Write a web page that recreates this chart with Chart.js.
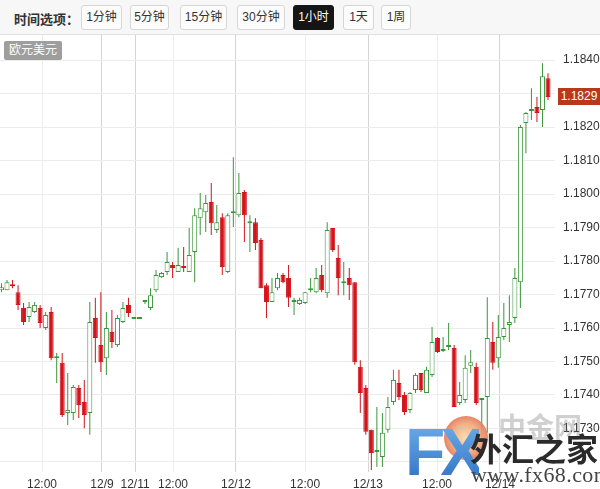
<!DOCTYPE html>
<html><head><meta charset="utf-8">
<script src="https://cdn.jsdelivr.net/npm/chart.js@4.4.0/dist/chart.umd.min.js"></script>
<style>
html,body{margin:0;padding:0;background:#fff;}
#wrap{position:relative;width:600px;height:489px;overflow:hidden;font-family:Arial,"Liberation Sans","Noto Sans CJK SC",sans-serif;}
#c{position:absolute;left:0;top:0;}
#bar{position:absolute;left:0;top:0;width:600px;height:34px;background:#f7f7f7;border-bottom:1px solid #e0e0e0;}
.lbl{position:absolute;left:14px;top:9px;font-size:13px;font-weight:bold;color:#333;}
.btn{position:absolute;top:5px;height:25px;line-height:23px;border:1px solid #d6d6d6;border-radius:3px;background:#fcfcfc;font-size:12px;color:#333;text-align:center;box-sizing:border-box;}
.btn.on{background:#151515;color:#fff;border-color:#151515;}
#pair{position:absolute;left:4px;top:41px;width:58px;height:19px;line-height:19px;background:#9e9e9e;color:#fff;font-size:12px;text-align:center;border-radius:2px;}
#price{position:absolute;left:558px;width:42px;height:17px;line-height:17px;background:#b9381b;color:#fff;font-size:12px;text-align:center;}
.wm{position:absolute;white-space:nowrap;}
</style></head>
<body>
<div id="wrap">
<canvas id="c" width="600" height="489"></canvas>
<div id="bar">
  <div class="lbl">时间选项：</div>
  <div class="btn" style="left:81px;width:41px;">1分钟</div>
  <div class="btn" style="left:130px;width:39px;">5分钟</div>
  <div class="btn" style="left:180px;width:47px;">15分钟</div>
  <div class="btn" style="left:237px;width:48px;">30分钟</div>
  <div class="btn on" style="left:293px;width:41px;">1小时</div>
  <div class="btn" style="left:343px;width:31px;">1天</div>
  <div class="btn" style="left:381px;width:30px;">1周</div>
</div>
<div id="pair">欧元美元</div>
<div id="price"></div>
<div class="wm" style="left:498px;top:406px;font-size:28px;font-weight:bold;color:rgba(120,120,120,0.35);font-family:'Noto Sans CJK SC';">中金网</div>
<div class="wm" style="left:444px;top:416px;width:44px;height:44px;border-radius:50%;background:radial-gradient(circle,#f8dcb0 0%,#f0aa7a 45%,#e2684e 78%,#d44a36 100%);opacity:0.9;"></div>
<div class="wm" style="left:405px;top:414px;font-size:66px;font-weight:bold;letter-spacing:-5px;font-family:Arial,'Liberation Sans';background:linear-gradient(#74b4ee,#2a6cc0);-webkit-background-clip:text;background-clip:text;color:transparent;">FX</div>
<div class="wm" style="left:470px;top:424px;font-size:32px;font-weight:bold;color:#2a2a2a;font-family:'Noto Sans CJK SC';">外汇之家</div>
<div class="wm" style="left:471px;top:462px;font-size:22px;color:#444;font-family:'Liberation Serif',serif;letter-spacing:0.4px;">www.fx68.com</div>
</div>
<script>
const openVals = [
1.17713,1.17713,1.17731,1.17707,1.17660,1.17633,1.17648,1.17660,1.17600,1.17648,
1.17510,1.17496,1.17346,1.17346,1.17421,1.17379,1.17346,1.17630,1.17549,1.17510,
1.17588,1.17549,1.17618,1.17669,1.17627,1.17627,1.17678,1.17660,1.17713,1.17752,
1.17767,1.17788,1.17767,1.17782,1.17767,1.17827,1.17928,1.17946,1.17976,1.17893,
1.17931,1.17767,1.17943,1.17937,1.18006,1.17913,1.17916,1.17863,1.17728,1.17678,
1.17719,1.17758,1.17749,1.17678,1.17672,1.17675,1.17713,1.17707,1.17758,1.17704,
1.17899,1.17809,1.17734,1.17749,1.17737,1.17484,1.17421,1.17296,1.17230,1.17215,
1.17296,1.17379,1.17436,1.17400,1.17355,1.17415,1.17466,1.17406,1.17460,1.17570,
1.17531,1.17543,1.17540,1.17376,1.17385,1.17487,1.17484,1.17385,1.17394,1.17558,
1.17510,1.17573,1.17609,1.17630,1.17737,1.18212,1.18248,1.18260,1.18251,1.18346];
const highVals = [
1.17734,1.17743,1.17743,1.17728,1.17675,1.17678,1.17678,1.17669,1.17648,1.17663,
1.17525,1.17525,1.17466,1.17430,1.17430,1.17445,1.17678,1.17690,1.17707,1.17648,
1.17654,1.17639,1.17678,1.17690,1.17627,1.17627,1.17684,1.17719,1.17773,1.17767,
1.17827,1.17797,1.17839,1.17842,1.17899,1.17958,1.18003,1.17997,1.18033,1.17967,
1.17943,1.17943,1.18110,1.18063,1.18012,1.17937,1.17928,1.17869,1.17734,1.17749,
1.17764,1.17764,1.17788,1.17690,1.17690,1.17707,1.17749,1.17779,1.17788,1.17916,
1.17899,1.17848,1.17797,1.17779,1.17737,1.17504,1.17430,1.17296,1.17364,1.17346,
1.17394,1.17475,1.17475,1.17409,1.17409,1.17466,1.17466,1.17484,1.17603,1.17573,
1.17573,1.17615,1.17549,1.17439,1.17519,1.17534,1.17496,1.17391,1.17692,1.17618,
1.17639,1.17675,1.17698,1.17779,1.18206,1.18245,1.18316,1.18290,1.18391,1.18361];
const lowVals = [
1.17707,1.17713,1.17719,1.17654,1.17609,1.17618,1.17645,1.17600,1.17594,1.17504,
1.17436,1.17334,1.17310,1.17325,1.17331,1.17301,1.17281,1.17496,1.17469,1.17460,
1.17540,1.17543,1.17615,1.17633,1.17627,1.17627,1.17672,1.17654,1.17707,1.17749,
1.17758,1.17749,1.17767,1.17767,1.17767,1.17737,1.17878,1.17887,1.17878,1.17884,
1.17758,1.17764,1.17902,1.17931,1.17857,1.17827,1.17833,1.17719,1.17630,1.17678,
1.17713,1.17734,1.17663,1.17639,1.17669,1.17672,1.17707,1.17704,1.17707,1.17690,
1.17827,1.17698,1.17698,1.17684,1.17490,1.17346,1.17281,1.17176,1.17185,1.17185,
1.17287,1.17370,1.17385,1.17340,1.17346,1.17406,1.17409,1.17406,1.17454,1.17525,
1.17528,1.17534,1.17364,1.17370,1.17376,1.17466,1.17370,1.17272,1.17287,1.17475,
1.17481,1.17564,1.17558,1.17615,1.17660,1.18122,1.18221,1.18215,1.18200,1.18281];
const closeVals = [
1.17722,1.17737,1.17725,1.17669,1.17618,1.17663,1.17669,1.17615,1.17639,1.17510,
1.17513,1.17340,1.17355,1.17424,1.17370,1.17340,1.17618,1.17570,1.17498,1.17600,
1.17558,1.17630,1.17660,1.17645,1.17627,1.17627,1.17678,1.17698,1.17758,1.17764,
1.17797,1.17779,1.17788,1.17779,1.17818,1.17937,1.17958,1.17973,1.17913,1.17916,
1.17782,1.17937,1.17946,1.18003,1.17937,1.17916,1.17854,1.17719,1.17678,1.17707,
1.17749,1.17737,1.17690,1.17681,1.17684,1.17707,1.17713,1.17749,1.17713,1.17893,
1.17833,1.17749,1.17734,1.17728,1.17498,1.17406,1.17290,1.17227,1.17233,1.17287,
1.17364,1.17445,1.17394,1.17349,1.17406,1.17460,1.17415,1.17475,1.17558,1.17528,
1.17534,1.17543,1.17364,1.17400,1.17481,1.17498,1.17376,1.17388,1.17570,1.17496,
1.17573,1.17600,1.17618,1.17749,1.18200,1.18242,1.18251,1.18242,1.18352,1.18290];
const xTickPos = [7.34, 18.2, 24.2, 31.07, 42.48, 55.0, 66.4, 78.9, 90.3];
const xTickLabels = ['12:00','12/9','12/11','12:00','12/12','12:00','12/13','12:00','12/14'];
const yTickVals = [1.1720,1.1730,1.1740,1.1750,1.1760,1.1770,1.1780,1.1790,1.1800,1.1810,1.1820,1.1830,1.1840];

const GREEN = '#3a963a', RED = '#d3141c';
const up = openVals.map((o,i)=> closeVals[i] >= o);

const priceBox = {
  id:'priceBox',
  afterRender(chart){
    const last = closeVals[closeVals.length-1];
    const y = chart.scales.y.getPixelForValue(last);
    const el = document.getElementById('price');
    el.style.top = Math.round(y - 8.5) + 'px';
    el.textContent = last.toFixed(4);
  }
};

new Chart(document.getElementById('c'), {
  type:'bar',
  data:{
    datasets:[
      {
        label:'body',
        data: openVals.map((o,i)=>({x:i, y:[o, closeVals[i]]})),
        backgroundColor: up.map(u=> u ? '#ffffff' : RED),
        borderColor: up.map(u=> u ? GREEN : RED),
        borderWidth:1, borderSkipped:false, barThickness:5, minBarLength:2,
        grouped:false, order:0, inflateAmount:0
      },
      {
        label:'wick',
        data: lowVals.map((l,i)=>({x:i, y:[l, highVals[i]]})),
        backgroundColor: up.map(u=> u ? GREEN : RED),
        borderWidth:0, barThickness:1, minBarLength:1,
        grouped:false, order:1, inflateAmount:0
      }
    ]
  },
  options:{
    responsive:false, animation:false, devicePixelRatio:1,
    layout:{padding:{top:35,left:0,right:0,bottom:0}},
    plugins:{legend:{display:false}, tooltip:{enabled:false}},
    scales:{
      x:{
        type:'linear', min:-0.27, max:100.27, offset:false,
        afterBuildTicks: s => { s.ticks = xTickPos.map(v=>({value:v})); },
        afterFit: s => { s.height = 17; },
        grid:{offset:false, drawTicks:false,
          color: ctx => (xTickLabels[ctx.index] === '12:00' ? '#ededed' : '#d4d4d4')},
        border:{display:false},
        ticks:{autoSkip:false, maxRotation:0, padding:5, color:'#333',
          font:{size:12, family:'Arial'},
          callback:(v,i)=> xTickLabels[i]}
      },
      y:{
        type:'linear', position:'right', min:1.17170, max:1.18475, beginAtZero:false,
        afterBuildTicks: s => { s.ticks = yTickVals.map(v=>({value:v})); },
        afterFit: s => { s.width = 45; },
        grid:{drawTicks:false, color:'#ececec'},
        border:{display:false},
        ticks:{padding:8, color:'#333', font:{size:12, family:'Arial'},
          callback: v => (v < 1.1725 ? '' : v.toFixed(4))}
      }
    }
  },
  plugins:[priceBox]
});
</script>
</body></html>
